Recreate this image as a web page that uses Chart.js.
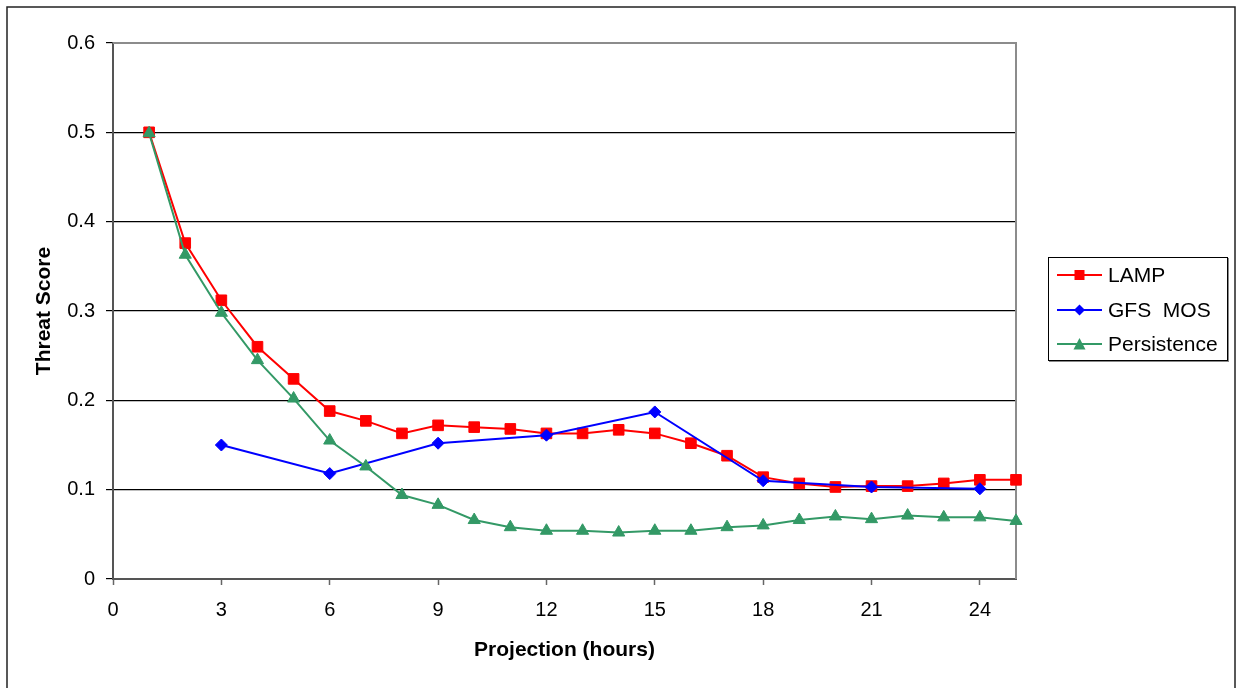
<!DOCTYPE html>
<html>
<head>
<meta charset="utf-8">
<script src="https://cdn.jsdelivr.net/npm/chart.js@4/dist/chart.umd.min.js"></script>
<style>
  html, body { margin: 0; padding: 0; background: #fff; }
  #wrap { position: relative; width: 1236px; height: 688px; overflow: hidden; }
  #chart { position: absolute; left: 0; top: 0; }
  #legend {
    position: absolute; left: 1048px; top: 257px; width: 180px; height: 104px;
    border: 1px solid #000; box-shadow: 1px 1px 0 #888; background: #fff;
    box-sizing: border-box; padding: 0 0 0 8px;
    font-family: "Liberation Sans", Arial, sans-serif; font-size: 21px; color: #000;
  }
  #legend .row { height: 34.5px; display: flex; align-items: center; white-space: pre; }
  #legend svg { margin-right: 6px; flex: none; }
</style>
</head>
<body>
<div id="wrap">
  <canvas id="chart" width="1236" height="688"></canvas>
  <div id="legend"></div>
</div>
<script>
// data
const hours = [1, 2, 3, 4, 5, 6, 7, 8, 9, 10, 11, 12, 13, 14, 15, 16, 17, 18, 19, 20, 21, 22, 23, 24, 25];
const lamp = [0.500, 0.376, 0.312, 0.260, 0.224, 0.188, 0.177, 0.163, 0.172, 0.170, 0.168, 0.163, 0.163,
  0.167, 0.163, 0.152, 0.138, 0.114, 0.107, 0.103, 0.104, 0.104, 0.107, 0.111, 0.111];
const gfsHours = [3, 6, 9, 12, 15, 18, 21, 24];
const gfsMos = [0.150, 0.118, 0.152, 0.161, 0.187, 0.110, 0.103, 0.101];
const persistence = [0.499, 0.363, 0.298, 0.245, 0.202, 0.155, 0.126, 0.094, 0.083, 0.066, 0.058, 0.054, 0.054,
  0.052, 0.054, 0.054, 0.058, 0.060, 0.066, 0.070, 0.067, 0.071, 0.069, 0.069, 0.065];
const seriesNames = ['LAMP', 'GFS  MOS', 'Persistence'];
const yTicks = [0, 0.1, 0.2, 0.3, 0.4, 0.5, 0.6];

const FONT = '"Liberation Sans", Arial, sans-serif';
const toPts = (xs, ys) => xs.map((x, i) => ({ x: x, y: ys[i] }));

const series = [
  { label: seriesNames[0], data: toPts(hours, lamp), color: '#ff0000', style: 'rect', r: 7.5, order: 2 },
  { label: seriesNames[1], data: toPts(gfsHours, gfsMos), color: '#0000ff', style: 'rectRot', r: 6, order: 1 },
  { label: seriesNames[2], data: toPts(hours, persistence), color: '#339966', style: 'triangle', r: 7, order: 0 }
];

// outer frame + gray top/right border of the plot area
const framePlugin = {
  id: 'frame',
  beforeDraw(chart) {
    const ctx = chart.ctx;
    ctx.save();
    ctx.fillStyle = '#fff';
    ctx.fillRect(0, 0, chart.width, chart.height);
    ctx.strokeStyle = '#222';
    ctx.lineWidth = 1.5;
    ctx.strokeRect(7, 7, 1228, 720);
    ctx.restore();
  },
  beforeDatasetsDraw(chart) {
    const a = chart.chartArea, ctx = chart.ctx;
    ctx.save();
    ctx.strokeStyle = '#8c8c8c';
    ctx.lineWidth = 2;
    ctx.beginPath();
    ctx.moveTo(a.left, a.top);
    ctx.lineTo(a.right, a.top);
    ctx.lineTo(a.right, a.bottom);
    ctx.stroke();
    ctx.restore();
  }
};

const chart = new Chart(document.getElementById('chart'), {
  type: 'line',
  data: {
    datasets: series.map(s => ({
      label: s.label,
      data: s.data,
      order: s.order,
      clip: false,
      borderColor: s.color,
      backgroundColor: s.color,
      borderWidth: 2,
      pointStyle: s.style,
      pointRadius: s.r,
      pointHoverRadius: s.r,
      pointBorderWidth: 1,
      pointBorderColor: s.color,
      pointBackgroundColor: s.color,
      tension: 0
    }))
  },
  options: {
    responsive: false,
    animation: false,
    events: [],
    layout: { padding: { left: 0, top: 43, right: 220, bottom: 0 } },
    plugins: { legend: { display: false }, tooltip: { enabled: false } },
    scales: {
      x: {
        type: 'linear',
        min: 0,
        max: 25,
        offset: false,
        ticks: { stepSize: 3, includeBounds: false, color: '#000', padding: 13, font: { family: FONT, size: 20 } },
        grid: { drawOnChartArea: false, drawTicks: true, tickLength: 6, tickColor: '#666', tickWidth: 1.5 },
        border: { color: '#555', width: 2 },
        title: {
          display: true, text: 'Projection (hours)', color: '#000',
          font: { family: FONT, size: 21, weight: 'bold' }, padding: { top: 0, bottom: 25 }
        },
        afterFit(scale) { scale.height = 109; }
      },
      y: {
        min: 0,
        max: 0.6,
        afterBuildTicks(scale) { scale.ticks = yTicks.map(v => ({ value: v })); },
        ticks: { color: '#000', padding: 11, font: { family: FONT, size: 20 }, callback: v => String(v) },
        grid: {
          color: c => (c.tick && c.tick.value === 0.6) ? 'rgba(0,0,0,0)' : '#000',
          lineWidth: 1.2,
          tickLength: 7,
          tickColor: '#000'
        },
        border: { color: '#555', width: 2 },
        title: {
          display: true, text: 'Threat Score', color: '#000',
          font: { family: FONT, size: 21, weight: 'bold' }, padding: { top: 32, bottom: 0 }
        },
        afterFit(scale) { scale.width = 113; }
      }
    }
  },
  plugins: [framePlugin]
});

// legend: line with marker, built from the datasets
function markerSvg(color, style) {
  let m = '';
  if (style === 'rect') m = `<rect x="17.5" y="2" width="10" height="10" fill="${color}"/>`;
  if (style === 'rectRot') m = `<polygon points="22.5,1.5 28,7 22.5,12.5 17,7" fill="${color}"/>`;
  if (style === 'triangle') m = `<polygon points="22.5,1 28.5,12.5 16.5,12.5" fill="${color}"/>`;
  return `<svg width="45" height="14" viewBox="0 0 45 14"><line x1="0" y1="7" x2="45" y2="7" stroke="${color}" stroke-width="2"/>${m}</svg>`;
}
document.getElementById('legend').innerHTML = series.map(s =>
  `<div class="row">${markerSvg(s.color, s.style)}<span>${s.label}</span></div>`).join('');
</script>
</body>
</html>
